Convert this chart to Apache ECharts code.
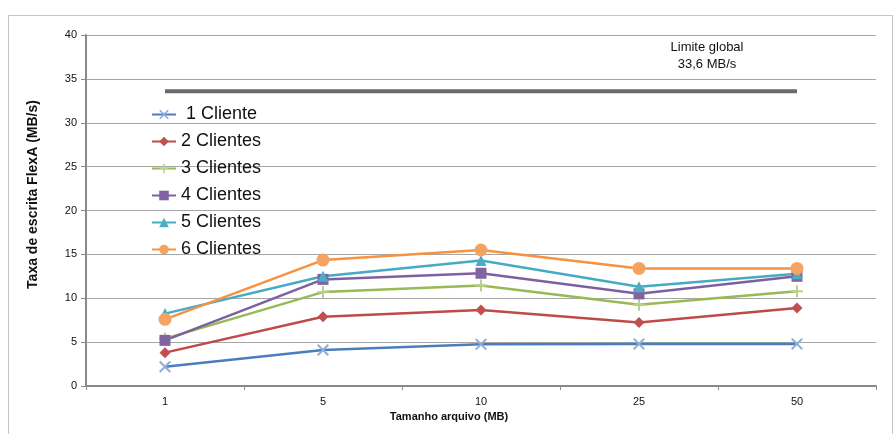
<!DOCTYPE html>
<html><head><meta charset="utf-8">
<script src="https://cdn.jsdelivr.net/npm/echarts@6/dist/echarts.min.js"></script>
<style>html,body{margin:0;padding:0;background:#fff}#c{width:894px;height:434px}</style>
</head><body><div id="c"></div>
<script>
const categories = ['1','5','10','25','50'];
const cliente1 = [2.2, 4.1, 4.75, 4.8, 4.8];
const clientes2 = [3.8, 7.9, 8.65, 7.25, 8.9];
const clientes3 = [5.4, 10.7, 11.45, 9.25, 10.8];
const clientes4 = [5.2, 12.15, 12.85, 10.5, 12.5];
const clientes5 = [8.25, 12.5, 14.3, 11.3, 12.8];
const clientes6 = [7.6, 14.35, 15.5, 13.4, 13.4];
const limiteGlobal = [33.6, 33.6, 33.6, 33.6, 33.6];
const seriesNames = ['1 Cliente','2 Clientes','3 Clientes','4 Clientes','5 Clientes','6 Clientes'];
const yTicks = [0,5,10,15,20,25,30,35,40];

const X_PATH = 'path://M0,1.2L1.2,0L5,3.8L8.8,0L10,1.2L6.2,5L10,8.8L8.8,10L5,6.2L1.2,10L0,8.8L3.8,5Z';
const PLUS_PATH = 'path://M4.2,0H5.8V4.2H10V5.8H5.8V10H4.2V5.8H0V4.2H4.2Z';

const styles = [
  {line:'#4a7ebb', mark:'#8eaedb', symbol:X_PATH, size:12},
  {line:'#be4b48', mark:'#c0504d', symbol:'diamond', size:11},
  {line:'#98b954', mark:'#b8d08a', symbol:PLUS_PATH, size:12},
  {line:'#7d60a0', mark:'#8064a2', symbol:'rect', size:11},
  {line:'#46aac5', mark:'#4bacc6', symbol:'triangle', size:11},
  {line:'#f69240', mark:'#f4a460', symbol:'circle', size:13}
];
const dataSets = [cliente1, clientes2, clientes3, clientes4, clientes5, clientes6];

const series = dataSets.map((d,i)=>({
  name: seriesNames[i], type:'line', data:d,
  symbol: styles[i].symbol, symbolSize: styles[i].size,
  lineStyle:{color:styles[i].line, width:2.5},
  itemStyle:{color:styles[i].mark},
  z: 3
}));
series.unshift({
  name:'Limite global', type:'line', data:limiteGlobal, symbol:'none',
  lineStyle:{color:'#6b6b6b', width:4}, z:2, silent:true
});

const chart = echarts.init(document.getElementById('c'), null, {renderer:'canvas'});
chart.setOption({
  animation:false,
  backgroundColor:'#fff',
  grid:{left:86, right:18, top:35, bottom:48},
  legend:{
    data: seriesNames, orient:'vertical', left:146, top:100,
    itemWidth:24, itemHeight:12, itemGap:8,
    formatter: n => n === '1 Cliente' ? ' ' + n : n,
    textStyle:{fontFamily:'Liberation Sans, Arial', fontSize:18, color:'#111', lineHeight:19}
  },
  xAxis:{
    type:'category', data:categories, boundaryGap:true,
    axisLine:{lineStyle:{color:'#8a8a8a', width:2}},
    axisTick:{show:true, length:4, lineStyle:{color:'#8a8a8a'}},
    axisLabel:{fontFamily:'Liberation Sans, Arial', fontSize:11, color:'#111', margin:10},
    name:'Tamanho arquivo (MB)', nameLocation:'middle', nameGap:25,
    nameTextStyle:{fontFamily:'Liberation Sans, Arial', fontSize:11, fontWeight:'bold', color:'#111', padding:[0,64,0,0]}
  },
  yAxis:{
    type:'value', min:0, max:40, interval:5,
    axisLine:{show:true, lineStyle:{color:'#8a8a8a', width:2}},
    axisTick:{show:true, length:5, lineStyle:{color:'#8a8a8a'}},
    axisLabel:{fontFamily:'Liberation Sans, Arial', fontSize:11, color:'#111', margin:9},
    splitLine:{lineStyle:{color:'#a6a6a6', width:1}},
    name:'Taxa de escrita FlexA (MB/s)', nameLocation:'middle', nameGap:46,
    nameTextStyle:{fontFamily:'Liberation Sans, Arial', fontSize:14, fontWeight:'bold', color:'#111', padding:[0,0,0,32]}
  },
  graphic:[
    {type:'rect', shape:{x:8.5, y:15.5, width:884, height:430}, style:{fill:'none', stroke:'#c4c4c4', lineWidth:1}, z:-1},
    {type:'text', x:707, y:39, style:{text:'Limite global\n33,6 MB/s', align:'center', fontFamily:'Liberation Sans, Arial', fontSize:13, lineHeight:17, fill:'#111'}}
  ],
  series: series
});
</script>
</body></html>
